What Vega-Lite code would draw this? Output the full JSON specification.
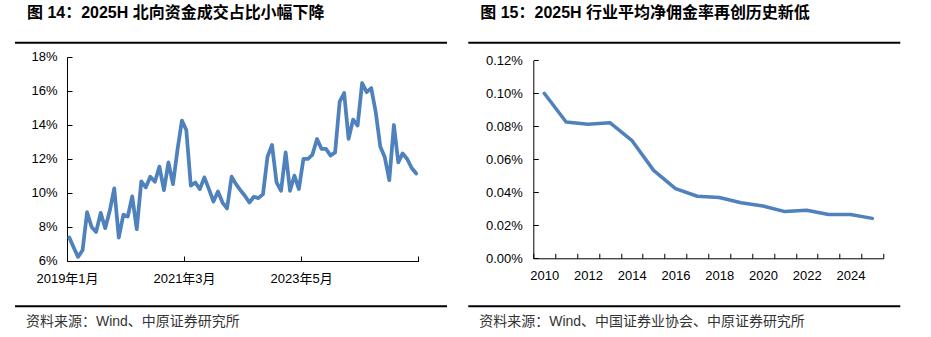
{
  "$schema": "https://vega.github.io/schema/vega-lite/v6.json",
  "autosize": {"type": "pad"},
  "padding": {"left": 15, "top": 4.7, "right": 10, "bottom": 4},
  "background": "white",
  "datasets": {
    "north": [
      {"month": "2019-01", "share": 7.38}, {"month": "2019-02", "share": 6.8}, {"month": "2019-03", "share": 6.24},
      {"month": "2019-04", "share": 6.63}, {"month": "2019-05", "share": 8.87}, {"month": "2019-06", "share": 8.0},
      {"month": "2019-07", "share": 7.71}, {"month": "2019-08", "share": 8.83}, {"month": "2019-09", "share": 7.93},
      {"month": "2019-10", "share": 8.95}, {"month": "2019-11", "share": 10.27}, {"month": "2019-12", "share": 7.38},
      {"month": "2020-01", "share": 8.72}, {"month": "2020-02", "share": 8.62}, {"month": "2020-03", "share": 9.8},
      {"month": "2020-04", "share": 7.87}, {"month": "2020-05", "share": 10.68}, {"month": "2020-06", "share": 10.33},
      {"month": "2020-07", "share": 10.96}, {"month": "2020-08", "share": 10.66}, {"month": "2020-09", "share": 11.55},
      {"month": "2020-10", "share": 10.17}, {"month": "2020-11", "share": 11.8}, {"month": "2020-12", "share": 10.52},
      {"month": "2021-01", "share": 12.57}, {"month": "2021-02", "share": 14.26}, {"month": "2021-03", "share": 13.71},
      {"month": "2021-04", "share": 10.43}, {"month": "2021-05", "share": 10.62}, {"month": "2021-06", "share": 10.23},
      {"month": "2021-07", "share": 10.92}, {"month": "2021-08", "share": 10.23}, {"month": "2021-09", "share": 9.5},
      {"month": "2021-10", "share": 10.09}, {"month": "2021-11", "share": 9.44}, {"month": "2021-12", "share": 9.09},
      {"month": "2022-01", "share": 10.96}, {"month": "2022-02", "share": 10.52}, {"month": "2022-03", "share": 10.17},
      {"month": "2022-04", "share": 9.84}, {"month": "2022-05", "share": 9.44}, {"month": "2022-06", "share": 9.78},
      {"month": "2022-07", "share": 9.7}, {"month": "2022-08", "share": 9.93}, {"month": "2022-09", "share": 12.14},
      {"month": "2022-10", "share": 12.83}, {"month": "2022-11", "share": 10.62}, {"month": "2022-12", "share": 10.13},
      {"month": "2023-01", "share": 12.39}, {"month": "2023-02", "share": 10.13}, {"month": "2023-03", "share": 11.02},
      {"month": "2023-04", "share": 10.23}, {"month": "2023-05", "share": 12.0}, {"month": "2023-06", "share": 12.0},
      {"month": "2023-07", "share": 12.26}, {"month": "2023-08", "share": 13.18}, {"month": "2023-09", "share": 12.59},
      {"month": "2023-10", "share": 12.59}, {"month": "2023-11", "share": 12.2}, {"month": "2023-12", "share": 12.39},
      {"month": "2024-01", "share": 15.38}, {"month": "2024-02", "share": 15.88}, {"month": "2024-03", "share": 13.18},
      {"month": "2024-04", "share": 14.32}, {"month": "2024-05", "share": 13.97}, {"month": "2024-06", "share": 16.47},
      {"month": "2024-07", "share": 15.93}, {"month": "2024-08", "share": 16.17}, {"month": "2024-09", "share": 14.75},
      {"month": "2024-10", "share": 12.73}, {"month": "2024-11", "share": 12.1}, {"month": "2024-12", "share": 10.76},
      {"month": "2025-01", "share": 14.0}, {"month": "2025-02", "share": 11.8}, {"month": "2025-03", "share": 12.33},
      {"month": "2025-04", "share": 12.0}, {"month": "2025-05", "share": 11.47}, {"month": "2025-06", "share": 11.15}
    ],
    "comm": [
      {"year": "2010", "rate": 0.1}, {"year": "2011", "rate": 0.0826}, {"year": "2012", "rate": 0.0812},
      {"year": "2013", "rate": 0.0822}, {"year": "2014", "rate": 0.0715}, {"year": "2015", "rate": 0.0533},
      {"year": "2016", "rate": 0.0422}, {"year": "2017", "rate": 0.0376}, {"year": "2018", "rate": 0.0368},
      {"year": "2019", "rate": 0.0337}, {"year": "2020", "rate": 0.0317}, {"year": "2021", "rate": 0.0283},
      {"year": "2022", "rate": 0.0291}, {"year": "2023", "rate": 0.0265}, {"year": "2024", "rate": 0.0265},
      {"year": "2025", "rate": 0.0242}
    ]
  },
  "config": {
    "view": {"stroke": null},
    "font": "Liberation Sans, Noto Sans CJK SC",
    "axis": {
      "labelFont": "Liberation Sans, Noto Sans CJK SC",
      "labelFontSize": 13,
      "labelColor": "#000",
      "domainColor": "#000",
      "domainWidth": 1,
      "tickColor": "#000",
      "tickWidth": 1,
      "tickSize": -5,
      "grid": false
    }
  },
  "columns": 2,
  "bounds": "flush",
  "spacing": {"row": 13.3, "column": 21.3},
  "concat": [
    {
      "width": 432, "height": 2,
      "view": {"fill": "#000", "stroke": null},
      "title": {"text": "图 14：2025H 北向资金成交占比小幅下降", "anchor": "start", "frame": "group", "dx": 12, "offset": 16,
                "fontSize": 16, "fontWeight": "bold", "font": "Liberation Sans, Noto Sans CJK SC", "color": "#000"},
      "data": {"values": [{}]},
      "mark": "text",
      "encoding": {}
    },
    {
      "width": 432, "height": 2,
      "view": {"fill": "#000", "stroke": null},
      "title": {"text": "图 15：2025H 行业平均净佣金率再创历史新低", "anchor": "start", "frame": "group", "dx": 12, "offset": 16,
                "fontSize": 16, "fontWeight": "bold", "font": "Liberation Sans, Noto Sans CJK SC", "color": "#000"},
      "data": {"values": [{}]},
      "mark": "text",
      "encoding": {}
    },
    {
      "width": 432, "height": 234.7,
      "data": {"name": "north"},
      "mark": {"type": "line", "color": "#4F81BD", "strokeWidth": 3.75, "strokeJoin": "round", "strokeCap": "round"},
      "encoding": {
        "x": {
          "field": "month", "type": "temporal", "timeUnit": "utcyearmonth", "bandPosition": 0.5,
          "scale": {"type": "utc", "domain": [{"year": 2019, "month": 1, "date": 1, "utc": true}, {"year": 2025, "month": 7, "date": 1, "utc": true}], "range": [52, 403.4], "nice": false},
          "axis": {
            "title": null,
            "values": [{"year": 2019, "month": 1, "date": 1, "utc": true}, {"year": 2021, "month": 3, "date": 1, "utc": true}, {"year": 2023, "month": 5, "date": 1, "utc": true}, {"year": 2025, "month": 7, "date": 1, "utc": true}],
            "labelExpr": "utcyear(datum.value) >= 2025 ? '' : utcyear(datum.value) + '年' + (utcmonth(datum.value) + 1) + '月'",
            "labelFlush": false, "labelOverlap": false, "offset": -30.7, "labelPadding": 17
          }
        },
        "y": {
          "field": "share", "type": "quantitative",
          "scale": {"domain": [6, 18], "range": [204, 0], "nice": false, "zero": false},
          "axis": {"title": null, "values": [6, 8, 10, 12, 14, 16, 18], "labelExpr": "datum.value + '%'", "offset": -52, "labelPadding": 15}
        }
      }
    },
    {
      "width": 432, "height": 234.7,
      "data": {"name": "comm"},
      "mark": {"type": "line", "color": "#4F81BD", "strokeWidth": 3.5, "strokeJoin": "round", "strokeCap": "round"},
      "encoding": {
        "x": {
          "field": "year", "type": "ordinal",
          "scale": {"type": "band", "range": [65, 415], "paddingInner": 0, "paddingOuter": 0},
          "axis": {"title": null, "labelAngle": 0, "tickBand": "extent", "labelExpr": "toNumber(datum.value) % 2 == 0 ? datum.label : ''", "offset": -33.4, "labelPadding": 16}
        },
        "y": {
          "field": "rate", "type": "quantitative",
          "scale": {"domain": [0, 0.12], "range": [201.3, 3.3], "nice": false},
          "axis": {"title": null, "values": [0, 0.02, 0.04, 0.06, 0.08, 0.1, 0.12], "labelExpr": "format(datum.value, '.2f') + '%'", "offset": -65, "labelPadding": 16}
        }
      }
    },
    {
      "width": 432, "height": 2,
      "view": {"fill": "#000", "stroke": null},
      "title": {"text": "资料来源：Wind、中原证券研究所", "orient": "bottom", "anchor": "start", "frame": "group", "dx": 11, "offset": 4,
                "fontSize": 14, "fontWeight": "normal", "font": "Liberation Sans, Noto Sans CJK SC", "color": "#333"},
      "data": {"values": [{}]},
      "mark": "text",
      "encoding": {}
    },
    {
      "width": 432, "height": 2,
      "view": {"fill": "#000", "stroke": null},
      "title": {"text": "资料来源：Wind、中国证券业协会、中原证券研究所", "orient": "bottom", "anchor": "start", "frame": "group", "dx": 11, "offset": 4,
                "fontSize": 14, "fontWeight": "normal", "font": "Liberation Sans, Noto Sans CJK SC", "color": "#333"},
      "data": {"values": [{}]},
      "mark": "text",
      "encoding": {}
    }
  ]
}
